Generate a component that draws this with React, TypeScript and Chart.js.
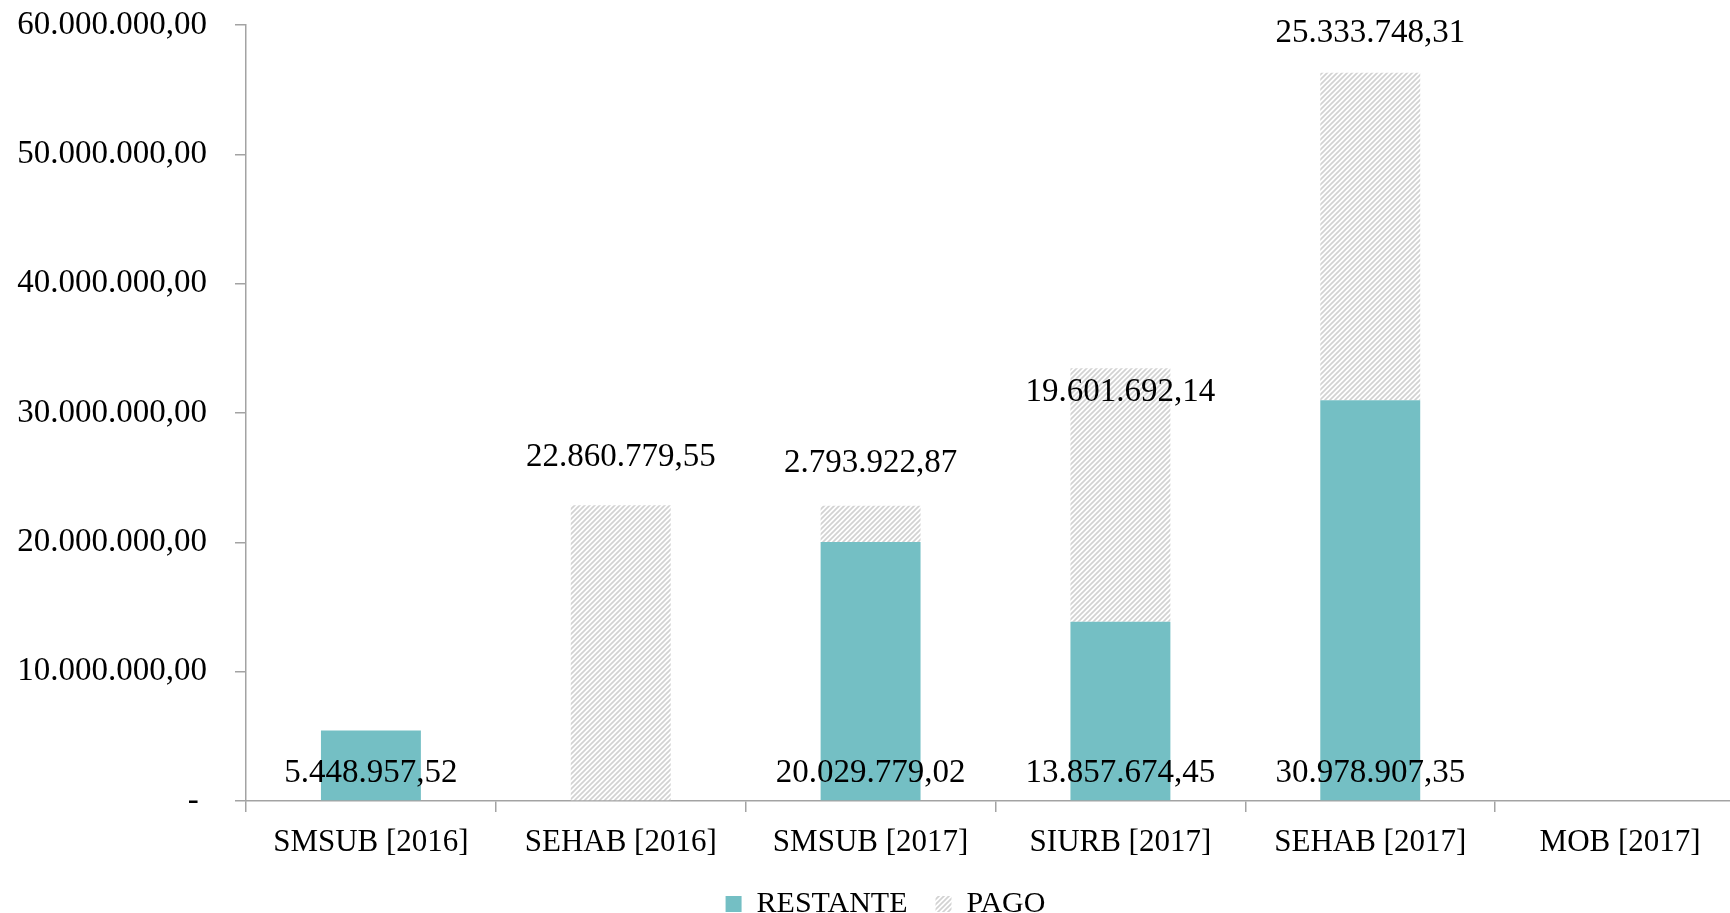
import { useEffect, useRef } from 'react';
import { Chart, registerables } from 'chart.js';

Chart.register(...registerables);

const categories = ['SMSUB [2016]', 'SEHAB [2016]', 'SMSUB [2017]', 'SIURB [2017]', 'SEHAB [2017]', 'MOB [2017]'];
const restante = [5448957.52, 0, 20029779.02, 13857674.45, 30978907.35, 0];
const pago = [0, 22860779.55, 2793922.87, 19601692.14, 25333748.31, 0];
const yMin = 0;
const yMax = 60000000;
const yStep = 10000000;
// vertical nudge (px) of the PAGO value labels, relative to the default spot above the bar
const pagoLabelNudge = [0, -4, 2, 68, 5, 0];

const FONT = '"Liberation Serif", "Times New Roman", serif';
const TEAL = '#74bfc4';
const AXIS = '#a3a3a3';

function fmt(v: number): string {
  const [i, d] = v.toFixed(2).split('.');
  return i.replace(/\B(?=(\d{3})+(?!\d))/g, '.') + ',' + d;
}

function makeHatch(): CanvasPattern | string {
  const n = 5;
  const c = document.createElement('canvas');
  c.width = n;
  c.height = n;
  const g = c.getContext('2d');
  if (!g) return '#e6e6e6';
  g.fillStyle = '#ffffff';
  g.fillRect(0, 0, n, n);
  g.strokeStyle = '#d2d2d2';
  g.lineWidth = 1.7;
  g.beginPath();
  g.moveTo(0, n);
  g.lineTo(n, 0);
  g.moveTo(-1, 1);
  g.lineTo(1, -1);
  g.moveTo(n - 1, n + 1);
  g.lineTo(n + 1, n - 1);
  g.stroke();
  return g.createPattern(c, 'repeat') || '#e6e6e6';
}

const labelPlugin = {
  id: 'valueLabels',
  afterLayout(chart: any) {
    // keep legend centred as in the original (which is centred on a wider frame)
    if (chart.legend) chart.legend.left += 26;
  },
  afterDatasetsDraw(chart: any) {
    const ctx = chart.ctx as CanvasRenderingContext2D;
    const ys = chart.scales.y;
    const m0 = chart.getDatasetMeta(0);
    const m1 = chart.getDatasetMeta(1);
    ctx.save();
    ctx.font = `33px ${FONT}`;
    ctx.fillStyle = '#000';
    ctx.textAlign = 'center';
    ctx.textBaseline = 'middle';
    restante.forEach((v, i) => {
      if (!v) return;
      const el = m0.data[i];
      ctx.fillText(fmt(v), el.x, ys.getPixelForValue(0) - 28);
    });
    pago.forEach((v, i) => {
      if (!v) return;
      const el = m1.data[i];
      ctx.fillText(fmt(v), el.x, el.y - 44 + pagoLabelNudge[i]);
    });
    ctx.restore();
  },
};

export default function App() {
  const ref = useRef<HTMLCanvasElement>(null);

  useEffect(() => {
    if (!ref.current) return;
    const hatch = makeHatch();
    const chart = new Chart(ref.current, {
      type: 'bar',
      data: {
        labels: categories,
        datasets: [
          {
            label: 'RESTANTE',
            data: restante,
            backgroundColor: TEAL,
            borderWidth: 0,
            categoryPercentage: 0.4,
            barPercentage: 1,
          },
          {
            label: 'PAGO',
            data: pago,
            backgroundColor: hatch as any,
            borderWidth: 0,
            categoryPercentage: 0.4,
            barPercentage: 1,
          },
        ],
      },
      options: {
        responsive: false,
        animation: false,
        layout: { padding: { left: 0, right: 0, top: 25, bottom: 0 } },
        plugins: {
          tooltip: { enabled: false },
          legend: {
            position: 'bottom',
            labels: {
              boxWidth: 16,
              boxHeight: 16,
              padding: 28,
              color: '#000',
              font: { family: FONT, size: 30 },
            },
          },
        },
        scales: {
          x: {
            stacked: true,
            grid: {
              offset: true,
              drawOnChartArea: false,
              drawTicks: true,
              tickLength: 11,
              color: AXIS,
              lineWidth: 1.5,
            },
            border: { display: true, color: AXIS, width: 1.5 },
            ticks: {
              color: '#000',
              font: { family: FONT, size: 31 },
              padding: 12,
              maxRotation: 0,
              autoSkip: false,
            },
            afterFit(s: any) {
              s.height = 60;
            },
          },
          y: {
            stacked: true,
            min: yMin,
            max: yMax,
            grid: {
              drawOnChartArea: false,
              drawTicks: true,
              tickLength: 11,
              color: AXIS,
              lineWidth: 1.5,
            },
            border: { display: true, color: AXIS, width: 1.5 },
            ticks: {
              stepSize: yStep,
              color: '#000',
              font: { family: FONT, size: 33 },
              padding: 28,
              callback: (v: any) => (Number(v) === 0 ? '- ' : fmt(Number(v))),
            },
            afterFit(s: any) {
              s.width = 246;
              s.paddingTop = 0;
              s.paddingBottom = 0;
            },
          },
        },
      },
      plugins: [labelPlugin],
    });
    return () => chart.destroy();
  }, []);

  return (
    <div style={{ position: 'fixed', left: 0, top: 0, width: 1730, height: 913, overflow: 'hidden', background: '#fff' }}>
      <canvas ref={ref} width={1745} height={929} style={{ display: 'block', width: 1745, height: 929 }} />
    </div>
  );
}
